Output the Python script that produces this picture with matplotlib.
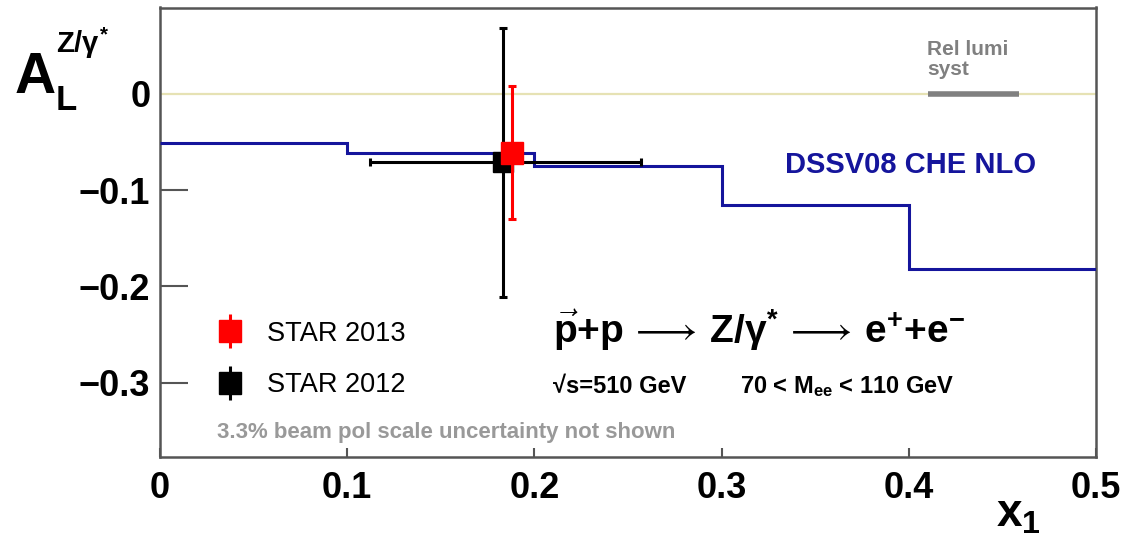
import matplotlib
matplotlib.use("Agg")
import matplotlib.pyplot as plt
from matplotlib.lines import Line2D

# ---- data ----
dssv_edges = [0.0, 0.1, 0.2, 0.3, 0.4, 0.5]
dssv_vals = [-0.051, -0.061, -0.075, -0.115, -0.182]

star13_x = [0.188]
star13_y = [-0.061]
star13_yerr = [0.069]

star12_x = [0.183]
star12_y = [-0.071]
star12_yerr = [0.140]
star12_xerr_lo = [0.071]
star12_xerr_hi = [0.074]

lumi_x = [0.410, 0.459]
lumi_y = [0.0, 0.0]

xticks = [0.0, 0.1, 0.2, 0.3, 0.4, 0.5]
xtick_labels = ['0', '0.1', '0.2', '0.3', '0.4', '0.5']
yticks = [0.0, -0.1, -0.2, -0.3]
ytick_labels = ['0', '\u22120.1', '\u22120.2', '\u22120.3']

plt.rcParams['font.family'] = ['Liberation Sans', 'DejaVu Sans']
plt.rcParams['mathtext.fontset'] = 'custom'
plt.rcParams['mathtext.rm'] = 'Liberation Sans:bold'
plt.rcParams['mathtext.bf'] = 'Liberation Sans:bold'
plt.rcParams['mathtext.it'] = 'Liberation Sans:bold'
plt.rcParams['mathtext.sf'] = 'Liberation Sans:bold'

fig = plt.figure(figsize=(11.24, 5.39), dpi=100)
ax = fig.add_axes([160 / 1124, 1 - 457 / 539, 936 / 1124, 449.5 / 539])

frame_col = '#555555'
blue = '#15159c'

ax.axhline(0, color='#e6e2b4', lw=1.6, zorder=1)
ax.plot(lumi_x, lumi_y, color='#808080', lw=4, solid_capstyle='butt', zorder=2)
ax.stairs(dssv_vals, dssv_edges, color=blue, lw=2.2, baseline=None, zorder=3)

ax.errorbar(star12_x, star12_y, yerr=star12_yerr,
            xerr=[star12_xerr_lo, star12_xerr_hi], fmt='s', color='black',
            ms=15, elinewidth=2.2, capsize=3, capthick=2.2, zorder=4)
ax.errorbar(star13_x, star13_y, yerr=star13_yerr, fmt='s', color='red',
            ms=16, elinewidth=2.2, capsize=3, capthick=2.2, zorder=5)

ax.set_xlim(0, 0.5)
ax.set_ylim(-0.3773, 0.0899)

ax.set_xticks(xticks)
ax.set_xticklabels(xtick_labels, fontsize=26, fontweight='bold')
ax.set_yticks(yticks)
ax.set_yticklabels(ytick_labels, fontsize=26, fontweight='bold')
ax.tick_params(axis='x', direction='in', length=6.5, width=1.5,
               color=frame_col, pad=10)
ax.tick_params(axis='y', direction='in', length=20, width=1.5,
               color=frame_col, pad=7)
ax.yaxis.get_major_ticks()[0].tick1line.set_visible(False)
for s in ax.spines.values():
    s.set_color(frame_col)
    s.set_linewidth(1.8)

# legend
h13 = (Line2D([], [], marker='|', ms=24, mew=2.2, color='red', ls=''),
       Line2D([], [], marker='s', ms=16, color='red', ls=''))
h12 = (Line2D([], [], marker='|', ms=24, mew=2.2, color='black', ls=''),
       Line2D([], [], marker='s', ms=16, color='black', ls=''))
ax.legend([h13, h12], ['STAR 2013', 'STAR 2012'], loc='center left',
          bbox_to_anchor=(0.0577, 0.217), frameon=False, fontsize=19.5,
          borderpad=0, borderaxespad=0, handlelength=1.2,
          handletextpad=0.74, labelspacing=0.95)

# annotations
ax.text(0.334, -0.0743, 'DSSV08 CHE NLO', color=blue, fontsize=21,
        fontweight='bold', va='center', ha='left')
ax.text(0.4097, 0.0405, 'Rel lumi', color='#808080', fontsize=15,
        fontweight='bold', va='baseline')
ax.text(0.4097, 0.0198, 'syst', color='#808080', fontsize=15,
        fontweight='bold', va='baseline')
ax.text(0.210, -0.259,
        r'$\mathrm{\vec{p}{+}p\,\longrightarrow\,Z/\gamma^{*}\,\longrightarrow\,e^{+}{+}e^{-}}$',
        fontsize=28, va='baseline')
ax.text(0.210, -0.311, '\u221as=510 GeV', fontsize=17, fontweight='bold',
        va='baseline')
ax.text(0.310, -0.311, r'70 < M$_{\mathrm{ee}}$ < 110 GeV', fontsize=17,
        fontweight='bold', va='baseline')
ax.text(0.0304, -0.358, '3.3% beam pol scale uncertainty not shown',
        color='#999999', fontsize=16, fontweight='bold', va='baseline')

# axis titles
fig.text(15 / 1124, 1 - 93 / 539, 'A', fontsize=41, fontweight='bold',
         va='baseline')
fig.text(56 / 1124, 1 - 110 / 539, 'L', fontsize=25, fontweight='bold',
         va='baseline')
fig.text(56 / 1124, 1 - 53 / 539, r'Z/$\gamma^{*}$', fontsize=21,
         fontweight='bold', va='baseline')
fig.text(996 / 1124, 1 - 527 / 539, r'x$_{1}$', fontsize=33,
         fontweight='bold', va='baseline')

fig.savefig('out.png', dpi=100)
plt.close(fig)
